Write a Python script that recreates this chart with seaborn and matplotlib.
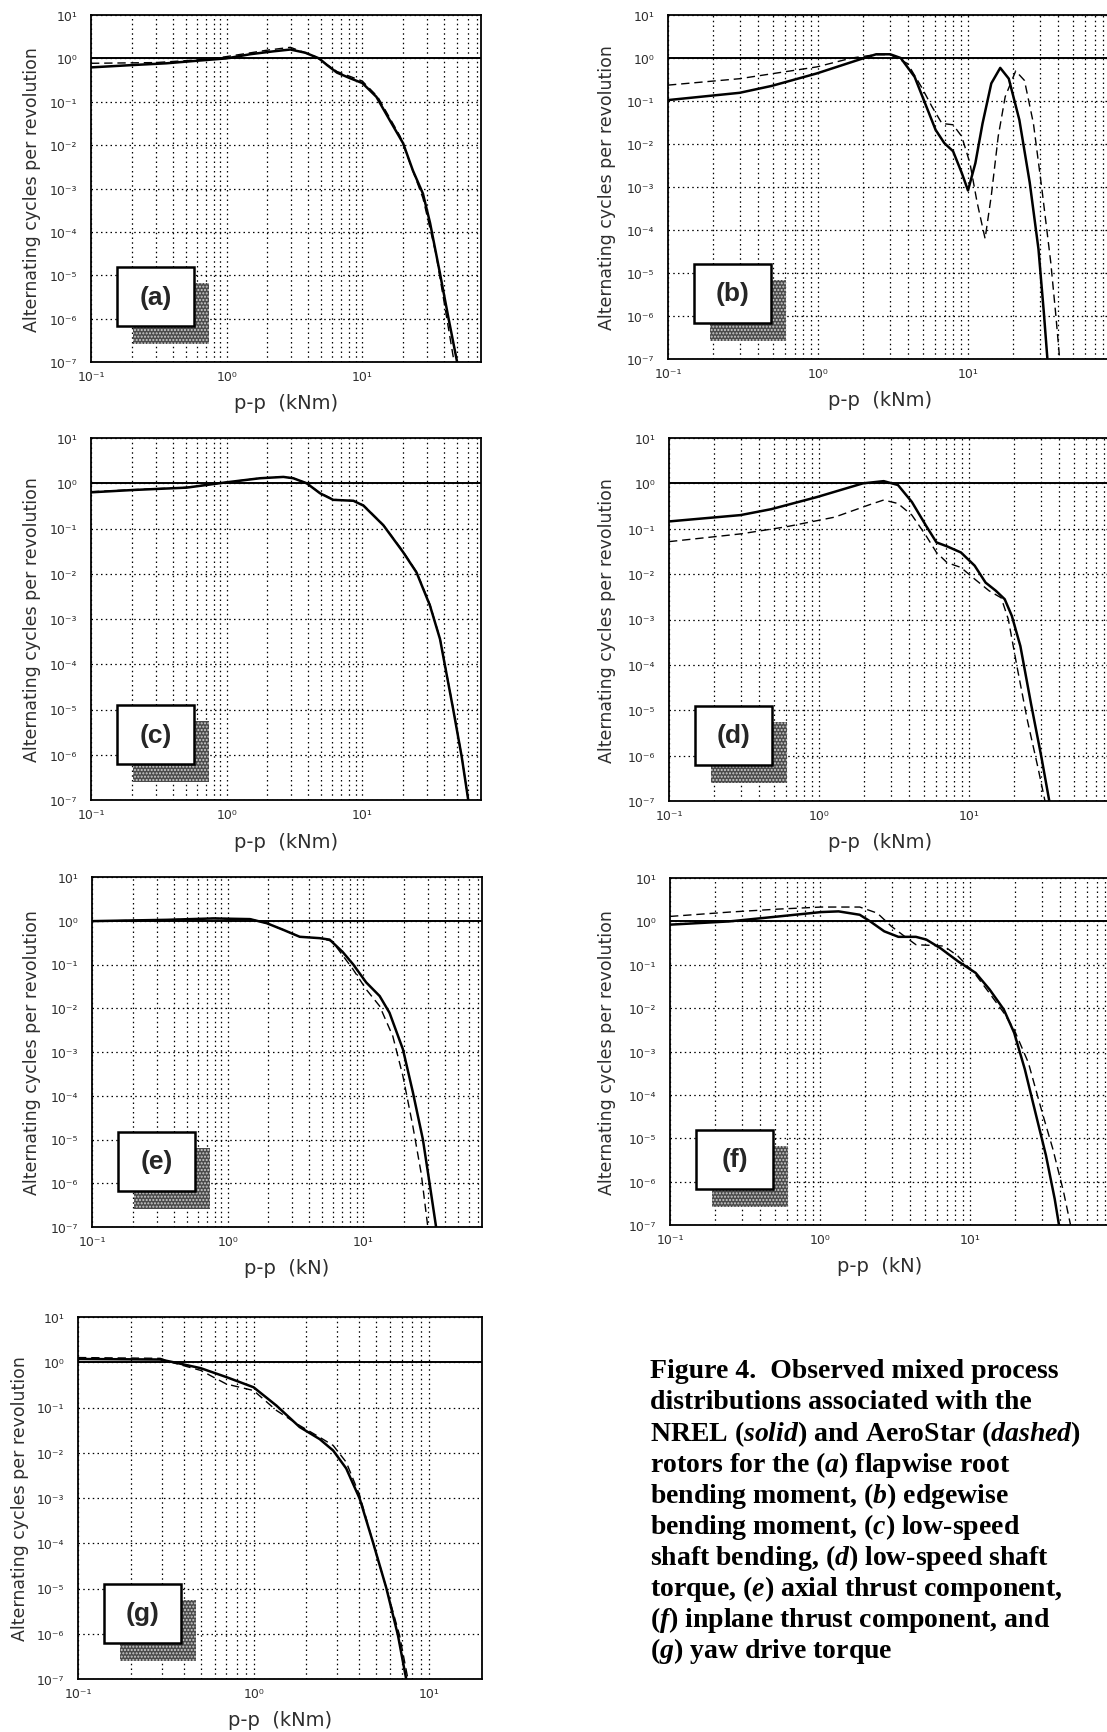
import matplotlib
matplotlib.use("Agg")
import matplotlib.pyplot as plt
from matplotlib.patches import Rectangle
from matplotlib.ticker import FixedLocator, NullLocator, LogLocator, NullFormatter
import seaborn as sns

# ---- data (x: p-p range, y: cycles per revolution) ----
# (a) flapwise root bending moment
a_solid_x = [0.1, 0.2, 0.36, 0.6, 1.0, 1.5, 2.2, 2.95, 3.8, 4.8, 5.5, 6.5, 8.1, 10, 12.7, 15.9, 20, 23.6, 28, 31.6, 37, 43, 50]
a_solid_y = [0.62, 0.70, 0.77, 0.88, 1.0, 1.25, 1.45, 1.6, 1.35, 1.0, 0.7, 0.47, 0.35, 0.27, 0.13, 0.038, 0.011,
             2.6e-3, 7.6e-4, 1.6e-4, 1.3e-5, 1.1e-6, 1e-7]
a_dash_x = [0.1, 0.3, 0.7, 1.0, 2.0, 2.95, 4.5, 6.5, 10, 13, 19, 28, 35, 40, 47.5]
a_dash_y = [0.77, 0.80, 0.95, 1.1, 1.55, 1.8, 1.1, 0.5, 0.3, 0.13, 0.016, 6e-4, 3e-5, 2.5e-6, 1e-7]

# (b) edgewise bending moment
b_solid_x = [0.1, 0.30, 0.49, 0.98, 1.97, 2.44, 3.03, 3.56, 4.41, 5.17, 6.08, 6.95, 7.95, 9.08, 10, 11.2, 12.5,
             14.3, 16.4, 18.7, 22, 25.8, 29.5, 32, 33.8]
b_solid_y = [0.105, 0.155, 0.224, 0.437, 0.966, 1.22, 1.22, 1.0, 0.363, 0.089, 0.0214, 0.0105, 0.0068, 0.00214,
             8.3e-4, 3.6e-3, 0.030, 0.257, 0.589, 0.331, 0.0363, 1.26e-3, 3.6e-5, 1.26e-6, 1.05e-7]
b_dash_x = [0.1, 0.30, 0.98, 1.68, 2.44, 3.03, 3.96, 4.9, 5.75, 6.7, 7.95, 9.08, 10.3, 11.5, 13, 14.3, 15.9,
            17.7, 20.8, 23.8, 27.3, 31.1, 35.6, 38.5, 40.8]
b_dash_y = [0.234, 0.33, 0.62, 1.0, 1.2, 1.2, 0.74, 0.21, 0.074, 0.030, 0.028, 0.015, 3.6e-3, 4.4e-4, 6.3e-5,
            6.3e-4, 0.015, 0.126, 0.50, 0.30, 0.030, 8.9e-4, 1.8e-5, 1.05e-6, 1.05e-7]

# (c) low-speed shaft bending
c_solid_x = [0.1, 0.205, 0.507, 1.0, 1.76, 2.62, 3.1, 3.89, 4.88, 6.1, 8.6, 10.2, 14.3, 20, 25.1, 31.5, 37.4, 46.8, 54, 60.4]
c_solid_y = [0.63, 0.71, 0.80, 1.05, 1.29, 1.38, 1.29, 1.0, 0.60, 0.43, 0.41, 0.32, 0.118, 0.030, 0.0107, 2.0e-3,
             3.6e-4, 1e-5, 9.2e-7, 1e-7]
c_dash_x = [0.1, 0.205, 0.507, 1.0, 1.76, 2.62, 3.1, 3.89, 4.88, 6.1, 8.6, 10.2, 14.3, 20, 25.1, 31.5, 37.4, 46.8, 54, 60.4]
c_dash_y = [0.65, 0.72, 0.81, 1.05, 1.30, 1.38, 1.29, 1.0, 0.61, 0.44, 0.41, 0.33, 0.12, 0.031, 0.011, 2.1e-3,
            3.7e-4, 1.05e-5, 9.5e-7, 1e-7]

# (d) low-speed shaft torque
d_solid_x = [0.1, 0.30, 0.48, 0.97, 1.96, 2.7, 3.36, 4.16, 5.16, 6.07, 7.13, 8.84, 10.9, 12.9, 15.1, 17.3, 19.3,
             22, 25.9, 30.4, 34.3]
d_solid_y = [0.145, 0.2, 0.27, 0.5, 1.0, 1.12, 0.92, 0.39, 0.118, 0.05, 0.041, 0.030, 0.0154, 6.5e-3, 4.3e-3,
             2.8e-3, 1.2e-3, 2.6e-4, 1.4e-5, 9.2e-7, 1e-7]
d_dash_x = [0.1, 0.30, 0.6, 1.27, 2.18, 2.7, 3.36, 4.16, 5.16, 6.07, 7.13, 8.84, 10.9, 13.6, 16.4, 18.3, 20.9,
            24.5, 28.8, 32.1]
d_dash_y = [0.052, 0.077, 0.11, 0.18, 0.34, 0.43, 0.36, 0.20, 0.071, 0.030, 0.018, 0.014, 7.8e-3, 4.3e-3, 3.0e-3,
            1e-3, 9.1e-5, 6e-6, 5.5e-7, 1e-7]

# (e) axial thrust component
e_solid_x = [0.1, 0.356, 0.785, 1.46, 1.94, 2.57, 3.4, 4.77, 5.65, 7.08, 8.39, 10.5, 13.2, 15.6, 19.6, 23.2, 27.5, 30.8, 34.4]
e_solid_y = [0.98, 1.05, 1.13, 1.09, 0.88, 0.62, 0.43, 0.40, 0.37, 0.19, 0.102, 0.039, 0.019, 7.9e-3, 1.15e-3,
             1.2e-4, 1e-5, 1e-6, 1e-7]
e_dash_x = [0.1, 0.356, 0.785, 1.46, 1.94, 2.57, 3.4, 4.77, 5.9, 7.08, 8.39, 10.5, 13.2, 16.5, 19.6, 23.2, 26.7, 29.9]
e_dash_y = [0.98, 1.05, 1.13, 1.09, 0.88, 0.62, 0.43, 0.40, 0.34, 0.158, 0.078, 0.027, 0.0112, 2.3e-3, 2.8e-4,
            2e-5, 1.7e-6, 1e-7]

# (f) inplane thrust component
f_solid_x = [0.1, 0.25, 0.53, 1.02, 1.33, 1.84, 2.16, 2.68, 3.33, 4.36, 5.12, 6.36, 8.32, 10.9, 13.5, 16.8, 19.7,
             23.2, 27.3, 32.1, 36.7, 39.2]
f_solid_y = [0.84, 1.0, 1.30, 1.64, 1.70, 1.42, 1.0, 0.59, 0.44, 0.44, 0.38, 0.24, 0.12, 0.065, 0.027, 9.3e-3,
             2.7e-3, 3.9e-4, 3.9e-5, 4e-6, 4e-7, 1e-7]
f_dash_x = [0.1, 0.25, 0.53, 1.02, 1.84, 2.41, 2.99, 3.7, 4.36, 5.4, 6.71, 8.32, 10.9, 13.5, 16.8, 19.7, 24.5,
            30.3, 35.7, 42, 46.8]
f_dash_y = [1.30, 1.64, 1.92, 2.14, 2.14, 1.55, 0.77, 0.44, 0.29, 0.28, 0.27, 0.158, 0.059, 0.022, 7.8e-3,
            3.2e-3, 5.5e-4, 3.9e-5, 5.6e-6, 5.9e-7, 1e-7]

# (g) yaw drive torque
g_solid_x = [0.1, 0.294, 0.35, 0.5, 0.70, 1.0, 1.35, 1.83, 2.38, 2.84, 3.37, 4.02, 4.78, 5.7, 6.64, 7.4]
g_solid_y = [1.18, 1.15, 1.0, 0.74, 0.47, 0.28, 0.11, 0.037, 0.020, 0.0112, 4.5e-3, 9.7e-4, 1.07e-4, 1.03e-5,
             9.3e-7, 1e-7]
g_dash_x = [0.1, 0.294, 0.35, 0.5, 0.70, 1.0, 1.35, 1.83, 2.38, 2.84, 3.37, 4.02, 4.78, 5.7, 6.78, 7.57]
g_dash_y = [1.27, 1.22, 0.97, 0.66, 0.33, 0.237, 0.086, 0.040, 0.022, 0.0145, 6.2e-3, 1.15e-3, 1.07e-4, 1.03e-5,
            9.3e-7, 1e-7]

panel_letters = ["a", "b", "c", "d", "e", "f", "g"]
x_labels = ["p-p  (kNm)", "p-p  (kNm)", "p-p  (kNm)", "p-p  (kNm)", "p-p  (kN)", "p-p  (kN)", "p-p  (kNm)"]
x_limits = [(0.1, 75), (0.1, 100), (0.1, 75), (0.1, 100), (0.1, 75), (0.1, 100), (0.1, 20)]
y_ticks = [1e-7, 1e-6, 1e-5, 1e-4, 1e-3, 1e-2, 1e-1, 1e0, 1e1]
y_tick_labels = ["10⁻⁷", "10⁻⁶", "10⁻⁵", "10⁻⁴", "10⁻³", "10⁻²", "10⁻¹", "10⁰", "10¹"]
x_ticks = [0.1, 1, 10, 100]
x_tick_labels = ["10⁻¹", "10⁰", "10¹", ""]
y_label = "Alternating cycles per revolution"

caption_lines = [
    "Figure 4.  Observed mixed process",
    "distributions associated with the",
    r"NREL ($\mathit{solid}$) and AeroStar ($\mathit{dashed}$)",
    r"rotors for the ($\mathit{a}$) flapwise root",
    r"bending moment, ($\mathit{b}$) edgewise",
    r"bending moment, ($\mathit{c}$) low-speed",
    r"shaft bending, ($\mathit{d}$) low-speed shaft",
    r"torque, ($\mathit{e}$) axial thrust component,",
    r"($\mathit{f}$) inplane thrust component, and",
    r"($\mathit{g}$) yaw drive torque",
]

curves = {
    "a": (a_solid_x, a_solid_y, a_dash_x, a_dash_y),
    "b": (b_solid_x, b_solid_y, b_dash_x, b_dash_y),
    "c": (c_solid_x, c_solid_y, c_dash_x, c_dash_y),
    "d": (d_solid_x, d_solid_y, d_dash_x, d_dash_y),
    "e": (e_solid_x, e_solid_y, e_dash_x, e_dash_y),
    "f": (f_solid_x, f_solid_y, f_dash_x, f_dash_y),
    "g": (g_solid_x, g_solid_y, g_dash_x, g_dash_y),
}

# ---- layout in pixels of the 1107 x 1733 page ----
W, H = 1107, 1733
# axes frame (left, top, right, bottom)
boxes = {
    "a": (91, 16, 481, 363),
    "b": (668, 16, 1118, 360),
    "c": (91, 439, 481, 801),
    "d": (669, 439, 1119, 802),
    "e": (92, 878, 482, 1228),
    "f": (670, 879, 1120, 1226),
    "g": (78, 1318, 482, 1680),
}
# centre x of the y label and of the x label
ylabel_x = {"a": 32, "b": 607, "c": 32, "d": 607, "e": 32, "f": 607, "g": 20}
xlabel_x = {"a": 286, "b": 880, "c": 286, "d": 880, "e": 287, "f": 880, "g": 280}

sns.set_style("white")
plt.rcParams["font.family"] = ["DejaVu Sans"]
plt.rcParams["mathtext.fontset"] = "custom"
plt.rcParams["mathtext.it"] = "Liberation Serif:italic:bold"
plt.rcParams["mathtext.rm"] = "Liberation Serif:bold"

fig = plt.figure(figsize=(W / 100, H / 100), dpi=100)
fig.patch.set_facecolor("white")

grid_style = dict(color="black", linestyle=(0, (1.2, 2.6)), linewidth=0.9)
text_grey = "#2e2e2e"

for i, letter in enumerate(panel_letters):
    l, t, r, b = boxes[letter]
    pw, ph = r - l, b - t
    ax = fig.add_axes([l / W, 1 - b / H, pw / W, ph / H])
    ax.set_xscale("log")
    ax.set_yscale("log")

    sx, sy, dx, dy = curves[letter]
    sns.lineplot(x=sx, y=sy, ax=ax, color="black", linewidth=1.8, sort=False, estimator=None, zorder=4)
    sns.lineplot(x=dx, y=dy, ax=ax, color="black", linewidth=1.0, sort=False, estimator=None,
                 linestyle=(0, (6, 3.5)), zorder=4)

    ax.set_xlim(*x_limits[i])
    ax.set_ylim(1e-7, 1e1)
    ax.axhline(1.0, color="black", linewidth=1.4, zorder=3)

    ax.yaxis.set_major_locator(FixedLocator(y_ticks))
    ax.yaxis.set_minor_locator(NullLocator())
    ax.set_yticklabels(y_tick_labels)
    ax.xaxis.set_major_locator(FixedLocator(x_ticks))
    ax.set_xticklabels(x_tick_labels)
    ax.xaxis.set_minor_locator(LogLocator(base=10, subs=[2, 3, 4, 5, 6, 7, 8, 9], numticks=20))
    ax.xaxis.set_minor_formatter(NullFormatter())
    ax.tick_params(axis="both", which="both", length=0, labelsize=9, colors=text_grey)
    ax.tick_params(axis="y", pad=10)
    ax.tick_params(axis="x", pad=6)

    ax.grid(True, which="major", axis="both", **grid_style)
    ax.grid(True, which="minor", axis="x", **grid_style)
    ax.set_axisbelow(True)
    for s in ax.spines.values():
        s.set_color("black")
        s.set_linewidth(1.3)

    fig.text(ylabel_x[letter] / W, 1 - (t + b) / 2 / H, y_label, rotation=90, ha="center", va="center",
             fontsize=12.5, color=text_grey)
    fig.text(xlabel_x[letter] / W, 1 - (b + 41) / H, x_labels[i], ha="center", va="center",
             fontsize=14, color=text_grey)

    # boxed panel tag with stippled drop shadow
    ax.add_patch(Rectangle((42 / pw, 18 / ph), 76 / pw, 61 / ph, transform=ax.transAxes,
                           facecolor="#4a4a4a", edgecolor="#cfcfcf", hatch=".....", linewidth=0, zorder=6))
    ax.add_patch(Rectangle((26 / pw, 36 / ph), 77 / pw, 59 / ph, transform=ax.transAxes,
                           facecolor="white", edgecolor="black", linewidth=1.8, zorder=7))
    ax.text((26 + 38.5) / pw, (36 + 29.5) / ph, f"({letter})", transform=ax.transAxes,
            ha="center", va="center", fontsize=19, fontweight="bold",
            family=["Liberation Sans", "DejaVu Sans"], zorder=8)

# caption
for k, line in enumerate(caption_lines):
    fig.text(650 / W, 1 - (1372 + k * 31) / H, line, ha="left", va="center",
             fontsize=20, fontweight="bold", family=["Liberation Serif", "DejaVu Serif"], color="black")

fig.savefig("out.png", dpi=100, facecolor="white")
plt.close(fig)
